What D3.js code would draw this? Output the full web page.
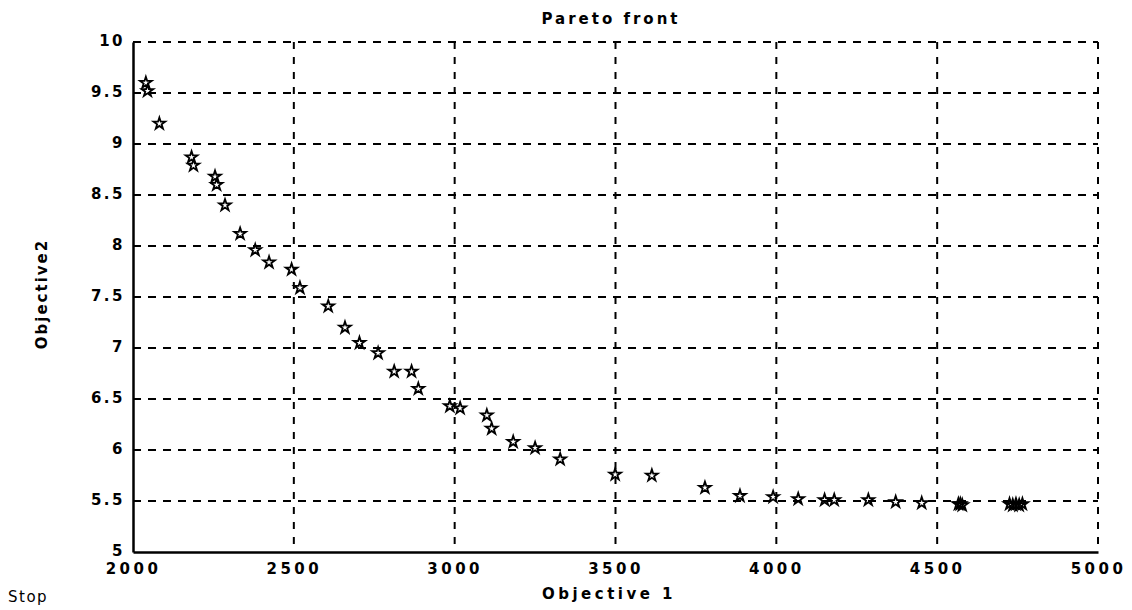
<!DOCTYPE html>
<html>
<head>
<meta charset="utf-8">
<script src="https://cdn.jsdelivr.net/npm/d3@7"></script>
<style>
  body { margin: 0; background: #fff; }
  text { font-family: "DejaVu Sans", sans-serif; fill: #000; }
</style>
</head>
<body>
<svg id="chart" width="1132" height="610"></svg>
<script>
const title = "Pareto front";
const xLabel = "Objective 1";
const yLabel = "Objective2";
const statusText = "Stop";
const xTicks = [2000, 2500, 3000, 3500, 4000, 4500, 5000];
const yTicks = [5, 5.5, 6, 6.5, 7, 7.5, 8, 8.5, 9, 9.5, 10];
const obj1 = [2040, 2045, 2082, 2182, 2188, 2255, 2260, 2286, 2333, 2380, 2423, 2493, 2519, 2607, 2659, 2704, 2762, 2812, 2866, 2887, 2985, 3017, 3100, 3115, 3182, 3250, 3328, 3499, 3613, 3778, 3887, 3990, 4068, 4150, 4180, 4286, 4371, 4452, 4566, 4572, 4578, 4725, 4735, 4745, 4755, 4765];
const obj2 = [9.60, 9.52, 9.20, 8.87, 8.79, 8.68, 8.60, 8.40, 8.12, 7.96, 7.84, 7.77, 7.59, 7.41, 7.20, 7.05, 6.95, 6.77, 6.77, 6.60, 6.43, 6.41, 6.34, 6.21, 6.08, 6.02, 5.91, 5.76, 5.75, 5.63, 5.55, 5.54, 5.52, 5.51, 5.51, 5.51, 5.49, 5.48, 5.47, 5.47, 5.46, 5.47, 5.46, 5.47, 5.46, 5.47];

const svg = d3.select("#chart");
const L = 133, R = 1098, T = 42, B = 552;
const x = d3.scaleLinear().domain([2000, 5000]).range([L, R]);
const y = d3.scaleLinear().domain([5, 10]).range([B, T]);

// grid
const grid = svg.append("g");
grid.selectAll("line.h").data(yTicks.filter(d => d > 5)).join("line")
  .attr("x1", L).attr("x2", R).attr("y1", d => y(d)).attr("y2", d => y(d))
  .attr("stroke", "#000").attr("stroke-width", 2).attr("stroke-dasharray", "8,7");
grid.selectAll("line.v").data(xTicks.filter(d => d > 2000)).join("line")
  .attr("y1", T).attr("y2", B).attr("x1", d => x(d)).attr("x2", d => x(d))
  .attr("stroke", "#000").attr("stroke-width", 2).attr("stroke-dasharray", "7,8");

// axes
const xAxis = svg.append("g").attr("transform", `translate(0,${B})`)
  .call(d3.axisBottom(x).tickValues(xTicks).tickSize(0).tickPadding(11).tickFormat(d3.format("d")));
const yAxis = svg.append("g").attr("transform", `translate(${L},0)`)
  .call(d3.axisLeft(y).tickValues(yTicks).tickSize(0).tickPadding(8).tickFormat(d => String(d)));
[xAxis, yAxis].forEach(a => {
  a.select(".domain").attr("stroke", "#000").attr("stroke-width", 2.5);
  a.selectAll("text").attr("font-family", "DejaVu Sans").attr("font-weight", "bold")
    .attr("font-size", 15).attr("fill", "#000");
});
xAxis.selectAll("text").attr("letter-spacing", 3.5);
yAxis.selectAll("text").attr("letter-spacing", 2.5).attr("dy", "0.25em");

// points
svg.append("g").selectAll("path").data(obj1.map((v, i) => [v, obj2[i]])).join("path")
  .attr("transform", d => `translate(${x(d[0])},${y(d[1])})`)
  .attr("d", d3.symbol(d3.symbolStar, 42))
  .attr("fill", "none").attr("stroke", "#000").attr("stroke-width", 1.8);

// labels
svg.append("text").attr("x", 611).attr("y", 24).attr("text-anchor", "middle")
  .attr("font-weight", "bold").attr("font-size", 15).attr("letter-spacing", 3).text(title);
svg.append("text").attr("x", 609).attr("y", 599).attr("text-anchor", "middle")
  .attr("font-weight", "bold").attr("font-size", 15).attr("letter-spacing", 3.5).text(xLabel);
svg.append("text").attr("transform", "translate(47,294) rotate(-90)").attr("text-anchor", "middle")
  .attr("font-weight", "bold").attr("font-size", 15).attr("letter-spacing", 2).text(yLabel);
svg.append("text").attr("x", 8).attr("y", 602).attr("font-size", 15).attr("letter-spacing", 1.5).text(statusText);
</script>
</body>
</html>
